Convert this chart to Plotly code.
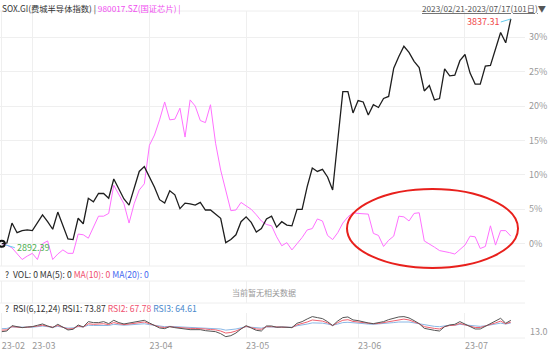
import plotly.graph_objects as go

# ---------------- data ----------------
# trading-day index 0..100 (2023/02/21 - 2023/07/17, 101 days)
month_ticks = [0, 6, 29, 48, 70, 91]
month_labels = ["23-02", "23-03", "23-04", "23-05", "23-06", "23-07"]

sox_base = 2892.39
sox_last = 3837.31

# SOX.GI  % change vs first day
sox_pct = [
    0.0, 0.1, 3.0, 1.6, 1.9, 2.0, 1.9, 3.0, 4.2, 3.2,
    2.1, 4.6, 2.6, 0.7, 0.6, 3.7, 2.9, 6.6, 6.1, 7.3,
    7.3, 6.6, 9.4, 8.0, 6.5, 5.6, 8.0, 10.5, 11.2, 9.8,
    8.2, 6.4, 5.9, 7.7, 7.1, 5.1, 5.9, 5.8, 5.6, 6.0,
    4.9, 4.9, 4.3, 3.7, 0.15, 0.6, 1.3, 3.2, 3.9, 3.1,
    1.7, 2.2, 3.6, 4.0, 2.4, 3.2, 2.7, 2.6, 5.0, 5.0,
    8.3, 11.0, 10.5, 10.8, 9.7, 7.8, 15.0, 22.1, 22.1, 19.0,
    20.8, 20.6, 18.7, 20.2, 19.8, 21.1, 21.4, 25.5, 27.2, 28.7,
    27.8, 26.5, 25.6, 22.2, 23.0, 20.9, 21.1, 25.4, 24.4, 24.5,
    26.6, 27.5, 24.8, 23.2, 23.2, 25.8, 25.9, 28.4, 30.7, 29.2,
    32.66,
]

# 980017.SZ  % change vs first day
chip_pct = [
    0.0, -0.2, -0.6, -1.5, -2.3, -1.8, -1.4, -2.3, 0.0, 0.4,
    -2.3, -1.5, -0.9, -1.4, -1.4, 1.4, 1.3, 0.8, 2.5, 4.0,
    4.0, 4.4, 8.5, 7.2, 5.8, 3.0, 5.8, 7.8, 8.7, 14.3,
    15.8, 18.0, 20.6, 18.0, 18.1, 19.7, 15.5, 20.9, 20.0, 17.9,
    17.6, 20.2, 14.6, 10.7, 7.8, 4.8, 4.9, 6.0, 5.5, 5.0,
    4.2, 3.3, 2.8, 2.6, 1.0, -0.3, 0.15, -0.9, 0.0, 0.9,
    2.0, 2.2, 3.6, 3.3, 1.2, 0.6, 1.6, 3.0, 3.9, 4.5,
    4.4, 4.4, 4.3, 1.5, 1.2, -0.4, 0.5, 1.1, 4.0, 3.9,
    3.3, 4.4, 4.5, 0.4, 0.0, -0.5, -1.0, -1.1, -1.3, -1.5,
    -0.8, -0.2, 1.1, 1.0, -0.7, -0.4, 2.6, -0.2, 1.9, 1.9,
    1.1,
]

rsi1 = [
    34.8, 37.1, 55.5, 50.9, 48.6, 50.9, 52.1, 56.7, 61.3, 54.4,
    48.6, 60.1, 49.8, 40.6, 42.9, 57.8, 50.9, 69.3, 65.9, 65.9,
    69.3, 62.4, 73.9, 65.9, 61.3, 64.7, 69.3, 71.6, 73.9, 64.7,
    55.5, 47.5, 45.2, 52.1, 48.6, 45.2, 44.0, 41.7, 41.7, 41.7,
    38.3, 36.0, 34.8, 27.9, 17.6, 21.0, 30.2, 44.0, 55.5, 47.5,
    39.4, 37.1, 54.4, 54.4, 49.8, 50.9, 49.8, 48.6, 63.6, 69.3,
    78.5, 86.6, 83.1, 79.7, 69.3, 55.5, 71.6, 83.1, 85.4, 75.1,
    72.8, 68.2, 64.7, 62.4, 64.7, 69.3, 76.2, 82.0, 85.4, 86.6,
    82.0, 72.8, 62.4, 46.3, 41.7, 39.4, 37.1, 52.1, 57.8, 60.1,
    69.3, 61.3, 53.2, 44.0, 44.0, 53.2, 61.3, 72.8, 80.8, 63.6,
    73.87,
]
rsi2 = [
    40, 41, 52, 50, 49, 50, 51, 54, 57, 53,
    50, 56, 50, 44, 45, 54, 51, 62, 60, 60,
    62, 59, 66, 62, 59, 61, 64, 66, 68, 62,
    56, 51, 49, 52, 50, 48, 47, 46, 46, 46,
    44, 42, 41, 37, 30, 32, 37, 45, 53, 49,
    44, 43, 52, 52, 50, 50, 50, 49, 58, 62,
    68, 75, 73, 71, 65, 56, 66, 74, 76, 70,
    68, 66, 63, 62, 63, 66, 70, 74, 77, 78,
    75, 69, 62, 52, 48, 46, 44, 52, 56, 57,
    63, 59, 54, 49, 49, 54, 58, 65, 71, 62,
    67.78,
]
rsi3 = [
    45, 46, 51, 50, 49, 50, 50, 52, 54, 52,
    50, 53, 50, 47, 48, 52, 51, 57, 56, 56,
    58, 56, 60, 58, 57, 58, 60, 61, 62, 59,
    56, 53, 52, 53, 52, 51, 50, 50, 49, 49,
    48, 47, 46, 44, 40, 41, 44, 48, 52, 50,
    48, 47, 51, 51, 50, 50, 50, 50, 55, 57,
    61, 65, 65, 64, 61, 57, 61, 66, 67, 65,
    64, 63, 61, 60, 61, 62, 64, 66, 68, 69,
    68, 65, 62, 57, 54, 53, 52, 55, 57, 57,
    60, 58, 56, 53, 53, 55, 58, 61, 64, 61,
    64.61,
]

pct_ticks = [0, 5, 10, 15, 20, 25, 30]
pct_labels = ["0%", "5%", "10%", "15%", "20%", "25%", "30%"]

# ---------------- figure ----------------
idx = list(range(len(sox_pct)))
FONT = "Noto Sans CJK SC, Microsoft YaHei, sans-serif"
GRID = "#efefef"
H, T, B = 352, 11, 0
PH = H - T - B


def py(px):
    """pixel row -> paper y"""
    return (H - B - px) / PH


fig = go.Figure()
fig.add_trace(go.Scatter(x=idx, y=chip_pct, mode="lines",
                         line=dict(color="#ff70ff", width=1),
                         xaxis="x", yaxis="y", hoverinfo="skip"))
fig.add_trace(go.Scatter(x=idx, y=sox_pct, mode="lines",
                         line=dict(color="#1e1e1e", width=1.3),
                         xaxis="x", yaxis="y", hoverinfo="skip"))
fig.add_trace(go.Scatter(x=[idx[0]], y=[sox_pct[0]], mode="markers",
                         marker=dict(symbol="circle-open", size=6,
                                     color="#111", line=dict(width=2)),
                         xaxis="x", yaxis="y", hoverinfo="skip"))
# empty VOL panel
fig.add_trace(go.Scatter(x=[None], y=[None], xaxis="x2", yaxis="y2",
                         mode="lines", hoverinfo="skip"))
# RSI panel
fig.add_trace(go.Scatter(x=idx, y=rsi3, mode="lines",
                         line=dict(color="#8ab8e6", width=1),
                         xaxis="x3", yaxis="y3", hoverinfo="skip"))
fig.add_trace(go.Scatter(x=idx, y=rsi2, mode="lines",
                         line=dict(color="#f0606e", width=1),
                         xaxis="x3", yaxis="y3", hoverinfo="skip"))
fig.add_trace(go.Scatter(x=idx, y=rsi1, mode="lines",
                         line=dict(color="#555555", width=1),
                         xaxis="x3", yaxis="y3", hoverinfo="skip"))

xr = [-0.354, 102.79]
xcommon = dict(range=xr, showgrid=True, gridcolor=GRID, gridwidth=1,
               tickvals=month_ticks, zeroline=False, showline=False,
               ticks="", fixedrange=True)

fig.update_layout(
    width=550, height=H,
    margin=dict(l=0, r=25, t=T, b=B),
    paper_bgcolor="white", plot_bgcolor="white",
    showlegend=False,
    font=dict(family=FONT, size=9, color="#999"),
    xaxis=dict(**xcommon, domain=[0, 1], anchor="y", showticklabels=False),
    yaxis=dict(domain=[py(266), 1], range=[-3.24, 33.82], side="right",
               tickvals=pct_ticks, ticktext=pct_labels, showgrid=True,
               gridcolor=GRID, zeroline=False, ticks="",
               ticklabelstandoff=3, automargin=False,
               tickfont=dict(size=9, color="#999"), anchor="x"),
    xaxis2=dict(**xcommon, domain=[0, 1], anchor="y2", showticklabels=False),
    yaxis2=dict(domain=[py(303), py(281)], range=[0, 1], showgrid=False,
                showticklabels=False, zeroline=False, anchor="x2"),
    xaxis3=dict(**xcommon, domain=[0, 1], anchor="y3", showticklabels=True,
                ticktext=month_labels, ticklabelposition="outside right",
                tickangle=0, ticklabelstandoff=1,
                tickfont=dict(size=9, color="#999"), automargin=False),
    yaxis3=dict(domain=[py(338), py(313)], range=[13, 99], side="right",
                tickvals=[13], ticktext=["13.0"], showgrid=False,
                zeroline=False, ticks="", ticklabelposition="outside top",
                ticklabelstandoff=4, automargin=False,
                tickfont=dict(size=9, color="#999"), anchor="x3"),
)

shapes = []
for yp in [11, 266, 281, 303, 338]:
    shapes.append(dict(type="line", xref="paper", yref="paper",
                       x0=0, x1=1, y0=py(yp), y1=py(yp),
                       line=dict(color="#eeeeee", width=1), layer="below"))
# red highlight ellipse
shapes.append(dict(type="circle", xref="paper", yref="paper",
                   x0=347 / 525, x1=518 / 525, y0=py(268), y1=py(189),
                   line=dict(color="#e8201c", width=2)))
fig.update_layout(shapes=shapes)

ann = [
    dict(xref="paper", yref="paper", x=0, y=py(8), xanchor="left",
         yanchor="middle", showarrow=False,
         text=("<span style='color:#333'>SOX.GI(费城半导体指数) |</span> "
               "<span style='color:#f050f0'>980017.SZ(国证芯片) |</span>"),
         font=dict(size=8.3, family=FONT)),
    dict(xref="paper", yref="paper", x=548 / 525, y=py(8), xanchor="right",
         yanchor="middle", showarrow=False,
         text="<u>2023/02/21-2023/07/17(101日)</u>▼",
         font=dict(size=8.2, color="#555", family=FONT)),
    dict(x=idx[0], y=sox_pct[0], xref="x", yref="y",
         text="%.2f" % sox_base, showarrow=True, arrowhead=0,
         arrowwidth=1, arrowcolor="#66ccee", ax=13, ay=4,
         xanchor="left", yanchor="middle", standoff=4,
         font=dict(size=9, color="#4caf50", family=FONT)),
    dict(x=idx[-1], y=sox_pct[-1], xref="x", yref="y",
         text="%.2f" % sox_last, showarrow=True, arrowhead=0,
         arrowwidth=1, arrowcolor="#66ccee", ax=-10, ay=3,
         xanchor="right", yanchor="middle", standoff=0,
         font=dict(size=9, color="#f04848", family=FONT)),
    dict(xref="paper", yref="paper", x=3 / 525, y=py(274), xanchor="left",
         yanchor="middle", showarrow=False,
         text=("<span style='color:#333'>?  VOL: 0 MA(5): 0</span> "
               "<span style='color:#f0506e'>MA(10): 0</span> "
               "<span style='color:#3f67f0'>MA(20): 0</span>"),
         font=dict(size=8.6, family=FONT)),
    dict(xref="paper", yref="paper", x=263.5 / 525, y=py(292),
         xanchor="center", yanchor="middle", showarrow=False,
         text="当前暂无相关数据", font=dict(size=8, color="#999", family=FONT)),
    dict(xref="paper", yref="paper", x=3 / 525, y=py(308), xanchor="left",
         yanchor="middle", showarrow=False,
         text=("<span style='color:#333'>?  RSI(6,12,24) RSI1: %.2f</span> "
               "<span style='color:#f0506e'>RSI2: %.2f</span> "
               "<span style='color:#4a88cc'>RSI3: %.2f</span>")
              % (rsi1[-1], rsi2[-1], rsi3[-1]),
         font=dict(size=8.6, family=FONT)),
]
fig.update_layout(annotations=ann)

fig.write_html("out.html")
